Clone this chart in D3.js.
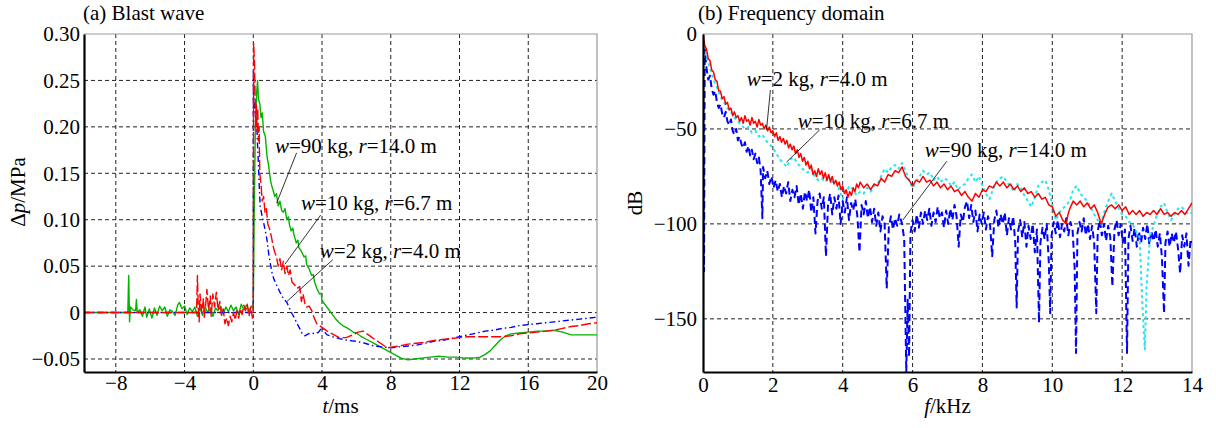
<!DOCTYPE html>
<html>
<head>
<meta charset="utf-8">
<script src="https://cdn.jsdelivr.net/npm/d3@7"></script>
<style>
body { margin:0; background:#fff; }
</style>
</head>
<body>
<svg id="chart" width="1216" height="428"></svg>
<script>
var FONT = 'Liberation Serif';
// (a) blast wave, [t ms, dp MPa]
var wave90 = [[-9.85,0],[-7.3,0],[-7.25,0.04],[-7.2,-0.01],[-7.15,0.006],[-7.0,0.003],[-6.85,0.002],[-6.8,0.014],[-6.75,0.0],[-6.6,0.003],[-6.45,-0.004],[-6.3,0.006],[-6.2,-0.005],[-6.05,0.004],[-5.9,-0.006],[-5.75,0.005],[-5.6,-0.003],[-5.45,0.007],[-5.3,0.002],[-5.15,0.006],[-5.0,-0.004],[-4.85,0.003],[-4.7,0.001],[-4.55,-0.003],[-4.4,0.008],[-4.3,0.011],[-4.15,0.004],[-4.0,0.007],[-3.85,-0.002],[-3.7,0.005],[-3.55,0.001],[-3.4,0.006],[-3.25,-0.004],[-3.1,0.005],[-2.95,-0.003],[-2.8,0.006],[-2.65,0.0],[-2.5,0.004],[-2.35,-0.004],[-2.2,0.005],[-2.05,0.002],[-1.9,0.007],[-1.75,-0.002],[-1.6,0.006],[-1.45,0.001],[-1.3,0.008],[-1.15,0.002],[-1.0,0.006],[-0.85,-0.002],[-0.7,0.009],[-0.55,0.003],[-0.4,0.008],[-0.25,0.002],[-0.1,0.007],[0.0,0.004],[0.05,0.1],[0.12,0.2],[0.2,0.238],[0.25,0.25],[0.3,0.23],[0.38,0.225],[0.45,0.21],[0.52,0.215],[0.6,0.195],[0.7,0.19],[0.8,0.168],[0.88,0.16],[0.95,0.15],[1.0,0.143],[1.05,0.138],[1.15,0.132],[1.25,0.125],[1.35,0.128],[1.45,0.115],[1.55,0.12],[1.65,0.11],[1.75,0.108],[1.85,0.112],[1.95,0.1],[2.05,0.103],[2.1,0.095],[2.2,0.088],[2.3,0.091],[2.35,0.085],[2.5,0.075],[2.6,0.078],[2.65,0.07],[2.8,0.066],[2.95,0.06],[3.05,0.061],[3.1,0.052],[3.25,0.047],[3.4,0.04],[3.5,0.041],[3.55,0.034],[3.7,0.026],[3.85,0.02],[3.95,0.021],[4.0,0.013],[4.2,0.008],[4.4,0.003],[4.6,-0.002],[4.8,-0.007],[5.0,-0.011],[5.2,-0.014],[5.4,-0.016],[5.6,-0.018],[5.8,-0.021],[6.0,-0.022],[6.3,-0.026],[6.6,-0.029],[7.0,-0.033],[7.4,-0.037],[7.8,-0.041],[8.2,-0.045],[8.6,-0.049],[9.0,-0.051],[9.4,-0.05],[9.8,-0.049],[10.3,-0.048],[10.8,-0.047],[11.3,-0.048],[11.8,-0.048],[12.3,-0.049],[12.8,-0.049],[13.2,-0.048],[13.5,-0.045],[13.8,-0.041],[14.1,-0.035],[14.4,-0.029],[14.7,-0.025],[15.0,-0.023],[15.5,-0.022],[16.0,-0.021],[16.5,-0.020],[17.0,-0.020],[17.5,-0.019],[18.0,-0.021],[18.5,-0.024],[19.0,-0.024],[19.5,-0.024],[20.0,-0.024]];
var wave10 = [[-9.85,0],[-3.3,0],[-3.25,0.04],[-3.2,0.005],[-3.15,-0.01],[-3.1,0.02],[-3.0,0.0],[-2.9,0.015],[-2.85,-0.005],[-2.75,0.012],[-2.7,0.025],[-2.6,0.002],[-2.5,0.018],[-2.45,-0.004],[-2.35,0.02],[-2.25,0.006],[-2.15,0.022],[-2.05,0.003],[-1.95,0.012],[-1.85,-0.003],[-1.75,0.004],[-1.65,-0.012],[-1.55,-0.006],[-1.45,-0.014],[-1.35,-0.004],[-1.25,-0.01],[-1.15,0.0],[-1.05,-0.008],[-0.95,0.002],[-0.85,-0.006],[-0.75,0.004],[-0.65,-0.002],[-0.55,0.008],[-0.45,0.002],[-0.35,0.009],[-0.25,-0.004],[-0.15,0.006],[-0.05,-0.006],[0.0,0.002],[0.02,0.29],[0.07,0.27],[0.1,0.24],[0.14,0.2],[0.18,0.225],[0.22,0.195],[0.26,0.22],[0.3,0.185],[0.34,0.2],[0.38,0.15],[0.45,0.138],[0.52,0.12],[0.6,0.125],[0.68,0.108],[0.76,0.112],[0.85,0.095],[0.95,0.09],[1.05,0.082],[1.15,0.072],[1.25,0.065],[1.35,0.06],[1.45,0.05],[1.55,0.058],[1.65,0.046],[1.75,0.055],[1.85,0.042],[1.95,0.05],[2.05,0.04],[2.15,0.046],[2.25,0.033],[2.4,0.03],[2.55,0.026],[2.7,0.028],[2.8,0.012],[2.9,0.02],[3.0,0.01],[3.1,0.006],[3.25,0.007],[3.4,0.002],[3.55,-0.006],[3.7,-0.012],[3.85,-0.014],[4.0,-0.016],[4.3,-0.02],[4.6,-0.023],[5.0,-0.027],[5.4,-0.027],[5.8,-0.024],[6.1,-0.021],[6.4,-0.02],[6.7,-0.024],[7.0,-0.028],[7.4,-0.033],[7.8,-0.038],[8.1,-0.037],[8.5,-0.036],[9.0,-0.034],[9.5,-0.033],[10.0,-0.032],[10.5,-0.030],[11.0,-0.029],[11.5,-0.028],[12.0,-0.027],[12.5,-0.026],[13.0,-0.026],[13.5,-0.026],[14.0,-0.026],[14.5,-0.026],[15.0,-0.025],[15.5,-0.023],[16.0,-0.022],[16.5,-0.021],[17.0,-0.020],[17.5,-0.019],[18.0,-0.017],[18.5,-0.015],[19.0,-0.014],[19.5,-0.012],[20.0,-0.011]];
var wave2 = [[-9.85,0],[0.0,0],[0.01,0.262],[0.04,0.23],[0.1,0.215],[0.2,0.205],[0.25,0.18],[0.3,0.16],[0.35,0.135],[0.4,0.115],[0.5,0.105],[0.6,0.097],[0.7,0.088],[0.8,0.078],[0.9,0.063],[1.0,0.052],[1.1,0.042],[1.2,0.036],[1.35,0.03],[1.5,0.024],[1.65,0.018],[1.8,0.014],[1.95,0.011],[2.1,0.005],[2.25,-0.001],[2.4,-0.006],[2.55,-0.012],[2.7,-0.017],[2.85,-0.023],[3.0,-0.025],[3.2,-0.023],[3.4,-0.022],[3.6,-0.023],[3.8,-0.021],[4.0,-0.016],[4.1,-0.02],[4.3,-0.024],[4.6,-0.026],[5.0,-0.028],[5.5,-0.030],[6.0,-0.031],[6.5,-0.033],[7.0,-0.036],[7.5,-0.037],[8.0,-0.038],[8.5,-0.037],[9.0,-0.036],[9.5,-0.035],[10.0,-0.033],[10.5,-0.031],[11.0,-0.030],[11.5,-0.028],[12.0,-0.026],[12.5,-0.024],[13.0,-0.022],[13.5,-0.020],[14.0,-0.019],[14.5,-0.017],[15.0,-0.016],[15.5,-0.014],[16.0,-0.013],[16.5,-0.012],[17.0,-0.011],[17.5,-0.010],[18.0,-0.009],[18.5,-0.008],[19.0,-0.007],[19.5,-0.006],[20.0,-0.005]];

// (b) frequency domain, [f kHz, dB]
var spec2 = [[0,0],[0.05,-6],[0.1,-8],[0.15,-13],[0.2,-14],[0.25,-19],[0.3,-20],[0.35,-24],[0.4,-25],[0.45,-30],[0.5,-30],[0.55,-34],[0.6,-33],[0.65,-37],[0.7,-36],[0.75,-40],[0.8,-39],[0.85,-43],[0.9,-41],[0.95,-44],[1.0,-43],[1.05,-46],[1.1,-44],[1.15,-47],[1.2,-43],[1.25,-46],[1.3,-45],[1.35,-48],[1.4,-44],[1.45,-47],[1.5,-46],[1.55,-49],[1.6,-45],[1.65,-48],[1.7,-47],[1.75,-50],[1.8,-48],[1.85,-51],[1.9,-49],[1.95,-52],[2.0,-51],[2.05,-54],[2.1,-52],[2.15,-56],[2.2,-54],[2.25,-57],[2.3,-55],[2.35,-58],[2.4,-56],[2.45,-60],[2.5,-58],[2.55,-61],[2.6,-59],[2.65,-63],[2.7,-61],[2.75,-65],[2.8,-63],[2.85,-67],[2.9,-65],[2.95,-69],[3.0,-67],[3.05,-71],[3.1,-69],[3.15,-74],[3.2,-72],[3.25,-75],[3.3,-71],[3.35,-74],[3.4,-72],[3.45,-76],[3.5,-73],[3.55,-77],[3.6,-74],[3.65,-78],[3.7,-75],[3.75,-79],[3.8,-77],[3.85,-80],[3.9,-78],[3.95,-82],[4.0,-80],[4.05,-84],[4.1,-82],[4.15,-86],[4.2,-83],[4.25,-85],[4.3,-81],[4.35,-83],[4.4,-79],[4.45,-81],[4.5,-78],[4.6,-81],[4.7,-79],[4.8,-82],[4.9,-79],[5.0,-80],[5.1,-76],[5.2,-78],[5.3,-74],[5.4,-75],[5.5,-72],[5.6,-73],[5.7,-70],[5.8,-75],[5.9,-77],[6.0,-80],[6.1,-77],[6.2,-78],[6.3,-75],[6.4,-78],[6.5,-77],[6.6,-80],[6.7,-78],[6.8,-81],[6.9,-79],[7.0,-82],[7.1,-80],[7.2,-83],[7.3,-82],[7.4,-85],[7.5,-83],[7.6,-86],[7.7,-88],[7.8,-84],[7.9,-86],[8.0,-82],[8.1,-83],[8.2,-80],[8.3,-81],[8.4,-78],[8.5,-80],[8.6,-78],[8.7,-81],[8.8,-79],[8.9,-82],[9.0,-80],[9.1,-83],[9.2,-81],[9.3,-84],[9.4,-83],[9.5,-86],[9.6,-84],[9.7,-87],[9.8,-86],[9.9,-90],[10.0,-91],[10.1,-96],[10.2,-94],[10.3,-98],[10.4,-100],[10.45,-95],[10.5,-92],[10.6,-88],[10.7,-90],[10.8,-88],[10.9,-91],[11.0,-89],[11.1,-92],[11.2,-90],[11.3,-94],[11.4,-100],[11.5,-95],[11.6,-91],[11.7,-90],[11.8,-92],[11.9,-90],[12.0,-93],[12.1,-91],[12.2,-95],[12.3,-93],[12.4,-95],[12.5,-93],[12.6,-96],[12.7,-94],[12.8,-95],[12.9,-93],[13.0,-95],[13.1,-92],[13.2,-95],[13.3,-94],[13.4,-96],[13.5,-94],[13.6,-95],[13.7,-93],[13.8,-95],[13.9,-92],[14.0,-89]];
var spec10 = [[0.0,0],[0.05,-8],[0.1,-12],[0.15,-15],[0.2,-18],[0.3,-24],[0.4,-28],[0.5,-33],[0.6,-36],[0.7,-39],[0.8,-41],[0.9,-44],[1.0,-46],[1.1,-48],[1.2,-50],[1.3,-49],[1.4,-52],[1.5,-51],[1.6,-54],[1.7,-53],[1.8,-56],[1.9,-58],[2.0,-60],[2.1,-63],[2.2,-66],[2.3,-68],[2.4,-70],[2.5,-66],[2.6,-65],[2.7,-68],[2.8,-70],[2.9,-72],[3.0,-73],[3.1,-71],[3.2,-75],[3.3,-77],[3.4,-76],[3.5,-78],[3.6,-75],[3.7,-78],[3.8,-77],[3.9,-82],[4.0,-87],[4.1,-83],[4.2,-80],[4.3,-82],[4.4,-85],[4.5,-83],[4.6,-84],[4.7,-81],[4.8,-83],[4.9,-80],[5.0,-79],[5.1,-75],[5.2,-71],[5.3,-73],[5.4,-70],[5.5,-69],[5.6,-71],[5.7,-68],[5.8,-72],[5.9,-77],[6.0,-81],[6.1,-78],[6.2,-75],[6.3,-72],[6.4,-74],[6.5,-73],[6.6,-77],[6.7,-75],[6.8,-78],[6.9,-76],[7.0,-77],[7.1,-80],[7.2,-78],[7.3,-82],[7.4,-80],[7.5,-79],[7.6,-76],[7.7,-74],[7.8,-78],[7.9,-75],[8.0,-80],[8.1,-84],[8.2,-87],[8.3,-82],[8.4,-78],[8.5,-76],[8.6,-75],[8.7,-78],[8.8,-80],[8.9,-83],[9.0,-79],[9.1,-81],[9.2,-85],[9.3,-88],[9.4,-91],[9.5,-86],[9.6,-80],[9.7,-78],[9.8,-77],[9.9,-82],[10.0,-90],[10.1,-98],[10.2,-94],[10.3,-92],[10.4,-90],[10.5,-88],[10.6,-82],[10.7,-80],[10.8,-84],[10.9,-86],[11.0,-88],[11.1,-91],[11.2,-95],[11.3,-98],[11.4,-100],[11.5,-93],[11.6,-88],[11.7,-84],[11.8,-88],[11.9,-92],[12.0,-95],[12.1,-96],[12.2,-99],[12.3,-100],[12.4,-104],[12.5,-107],[12.55,-130],[12.6,-150],[12.65,-166],[12.7,-133],[12.8,-106],[12.9,-101],[13.0,-95],[13.1,-91],[13.2,-89],[13.3,-94],[13.4,-98],[13.5,-95],[13.6,-92],[13.7,-91],[13.8,-93],[13.9,-95],[14.0,-94]];
var spec90 = [[0.0,-2],[0.03,-125],[0.05,-8],[0.1,-18],[0.15,-24],[0.2,-22],[0.25,-29],[0.3,-32],[0.35,-30],[0.4,-36],[0.45,-39],[0.5,-37],[0.55,-42],[0.6,-44],[0.65,-41],[0.7,-46],[0.75,-48],[0.8,-45],[0.85,-51],[0.9,-53],[0.95,-50],[1.0,-56],[1.05,-54],[1.1,-58],[1.15,-60],[1.2,-57],[1.25,-62],[1.3,-59],[1.35,-64],[1.4,-61],[1.45,-66],[1.5,-63],[1.55,-68],[1.6,-65],[1.65,-72],[1.7,-97],[1.72,-70],[1.78,-76],[1.84,-72],[1.9,-79],[1.96,-75],[2.02,-81],[2.08,-77],[2.14,-83],[2.2,-79],[2.26,-86],[2.32,-80],[2.38,-84],[2.44,-78],[2.5,-88],[2.56,-82],[2.62,-86],[2.68,-80],[2.74,-90],[2.8,-84],[2.86,-92],[2.92,-83],[2.98,-88],[3.04,-82],[3.1,-94],[3.16,-86],[3.22,-105],[3.28,-88],[3.34,-84],[3.4,-92],[3.46,-86],[3.52,-117],[3.58,-90],[3.64,-84],[3.7,-95],[3.76,-86],[3.82,-92],[3.88,-85],[3.94,-100],[4.0,-88],[4.06,-94],[4.12,-86],[4.18,-98],[4.24,-89],[4.3,-93],[4.36,-87],[4.42,-96],[4.48,-115],[4.54,-90],[4.6,-95],[4.66,-88],[4.72,-97],[4.78,-91],[4.84,-99],[4.9,-92],[4.96,-101],[5.02,-94],[5.08,-104],[5.14,-96],[5.2,-100],[5.26,-134],[5.32,-102],[5.38,-96],[5.44,-103],[5.5,-97],[5.56,-101],[5.62,-95],[5.7,-100],[5.76,-108],[5.82,-178],[5.86,-140],[5.9,-170],[5.94,-105],[6.0,-98],[6.06,-104],[6.12,-95],[6.18,-102],[6.24,-94],[6.3,-100],[6.36,-93],[6.42,-98],[6.48,-92],[6.54,-101],[6.6,-94],[6.66,-99],[6.72,-91],[6.78,-97],[6.84,-94],[6.9,-102],[6.96,-93],[7.02,-100],[7.08,-92],[7.14,-98],[7.2,-90],[7.26,-96],[7.32,-112],[7.38,-95],[7.44,-99],[7.5,-91],[7.56,-88],[7.62,-97],[7.68,-90],[7.74,-99],[7.8,-93],[7.86,-104],[7.92,-95],[7.98,-100],[8.04,-94],[8.1,-103],[8.16,-96],[8.22,-101],[8.28,-117],[8.34,-98],[8.4,-93],[8.46,-102],[8.52,-95],[8.58,-100],[8.64,-94],[8.7,-106],[8.76,-97],[8.82,-103],[8.88,-96],[8.94,-110],[8.98,-144],[9.02,-104],[9.08,-98],[9.14,-107],[9.2,-99],[9.26,-112],[9.32,-101],[9.38,-108],[9.44,-100],[9.5,-115],[9.56,-103],[9.62,-152],[9.66,-110],[9.72,-102],[9.78,-108],[9.84,-100],[9.9,-120],[9.94,-147],[9.98,-106],[10.04,-99],[10.1,-105],[10.16,-98],[10.22,-107],[10.28,-100],[10.34,-104],[10.4,-97],[10.46,-106],[10.52,-99],[10.58,-103],[10.64,-123],[10.68,-168],[10.72,-105],[10.78,-99],[10.84,-104],[10.9,-97],[10.96,-106],[11.02,-100],[11.08,-108],[11.14,-101],[11.2,-110],[11.26,-147],[11.3,-104],[11.36,-98],[11.42,-106],[11.48,-100],[11.54,-109],[11.6,-101],[11.66,-107],[11.72,-133],[11.78,-103],[11.84,-98],[11.9,-106],[11.96,-100],[12.02,-110],[12.08,-103],[12.14,-168],[12.18,-108],[12.24,-101],[12.3,-109],[12.36,-102],[12.42,-112],[12.48,-104],[12.54,-110],[12.6,-102],[12.66,-108],[12.72,-100],[12.78,-111],[12.84,-104],[12.9,-109],[12.96,-103],[13.02,-112],[13.08,-105],[13.14,-118],[13.2,-147],[13.24,-110],[13.3,-104],[13.36,-112],[13.42,-105],[13.48,-110],[13.54,-104],[13.6,-113],[13.66,-126],[13.72,-106],[13.78,-112],[13.84,-105],[13.9,-122],[13.96,-108],[14.0,-110]];

var tTicks = [-8,-4,0,4,8,12,16,20];
var pTicks = [-0.05,0,0.05,0.10,0.15,0.20,0.25,0.30];
var fTicks = [0,2,4,6,8,10,12,14];
var dbTicks = [-150,-100,-50,0];

// annotations: label, text anchor [x,y], leader from [x,y] to [x,y] in data units
var waveNotes = [
	{ w:'90', r:'14.0', at:[1.26,0.172], from:[2.52,0.172], to:[1.36,0.118] },
	{ w:'10', r:'6.7',  at:[2.77,0.111], from:[3.92,0.105], to:[1.84,0.052] },
	{ w:'2',  r:'4.0',  at:[3.87,0.059], from:[4.63,0.057], to:[1.96,0.012] }
];
var specNotes = [
	{ w:'2',  r:'4.0',  at:[1.25,-27.5], from:[1.93,-29.5], to:[1.82,-50.2] },
	{ w:'10', r:'6.7',  at:[2.71,-49.6], from:[3.34,-50.5], to:[2.39,-67.5] },
	{ w:'90', r:'14.0', at:[6.35,-64.9], from:[6.98,-67], to:[5.72,-98] }
];

var svg = d3.select('#chart');
svg.append('rect').attr('width',1216).attr('height',428).attr('fill','#fff');

function txt(sel) {
	return sel.attr('font-family', FONT).attr('font-size', 21).attr('fill', '#000');
}

function panel(o) {
	var x = d3.scaleLinear().domain(o.xd).range([o.x0, o.x1]);
	var y = d3.scaleLinear().domain(o.yd).range([o.y1, o.y0]);
	var g = svg.append('g');
	g.append('clipPath').attr('id', o.id).append('rect')
		.attr('x', o.x0).attr('y', o.y0).attr('width', o.x1-o.x0).attr('height', o.y1-o.y0);
	// grid
	g.selectAll('line.gx').data(o.xt.filter(function(d){return x(d)>o.x0+2 && x(d)<o.x1-2;})).enter().append('line')
		.attr('x1', x).attr('x2', x).attr('y1', o.y0).attr('y2', o.y1)
		.attr('stroke','#222').attr('stroke-width',1).attr('stroke-dasharray','4,3');
	g.selectAll('line.gy').data(o.yt.filter(function(d){return y(d)<o.y1-2 && y(d)>o.y0+2;})).enter().append('line')
		.attr('y1', y).attr('y2', y).attr('x1', o.x0).attr('x2', o.x1)
		.attr('stroke','#222').attr('stroke-width',1).attr('stroke-dasharray','4,3');
	// top/right frame
	g.append('path').attr('d','M'+o.x0+','+o.y0+'H'+o.x1+'V'+o.y1)
		.attr('fill','none').attr('stroke','#999').attr('stroke-width',1.2);
	// series
	var line = d3.line().x(function(d){return x(d[0]);}).y(function(d){return y(d[1]);});
	var lg = g.append('g').attr('clip-path','url(#'+o.id+')');
	o.series.forEach(function(s) {
		lg.append('path').datum(s.data).attr('d', line)
			.attr('fill','none').attr('stroke', s.color).attr('stroke-width', s.width)
			.attr('stroke-dasharray', s.dash).attr('stroke-linejoin','round');
	});
	// axes
	var ax = g.append('g').attr('transform','translate(0,'+o.y1+')')
		.call(d3.axisBottom(x).tickValues(o.xt).tickSize(0).tickPadding(o.xpad).tickFormat(o.xf));
	var ay = g.append('g').attr('transform','translate('+o.x0+',0)')
		.call(d3.axisLeft(y).tickValues(o.yt).tickSize(0).tickPadding(o.ypad).tickFormat(o.yf));
	[ax, ay].forEach(function(a) {
		a.attr('font-family', FONT).attr('font-size', 21);
		a.select('.domain').attr('stroke','#000').attr('stroke-width',2.2);
		a.selectAll('.tick text').attr('fill','#000');
	});
	// notes
	o.notes.forEach(function(n) {
		g.append('line').attr('x1', x(n.from[0])).attr('y1', y(n.from[1]))
			.attr('x2', x(n.to[0])).attr('y2', y(n.to[1])).attr('stroke','#000').attr('stroke-width',0.8);
		var t = txt(g.append('text')).attr('x', x(n.at[0])).attr('y', y(n.at[1]));
		t.append('tspan').attr('font-style','italic').text('w');
		t.append('tspan').text('=' + n.w + ' kg, ');
		t.append('tspan').attr('font-style','italic').text('r');
		t.append('tspan').text('=' + n.r + ' m');
	});
	// titles
	txt(g.append('text')).attr('x', o.tx).attr('y', 20).text(o.title);
	var xl = txt(g.append('text')).attr('x', (o.x0+o.x1)/2).attr('y', 413).attr('text-anchor','middle');
	xl.append('tspan').attr('font-style','italic').text(o.xlab[0]);
	xl.append('tspan').text(o.xlab[1]);
	var yl = txt(g.append('text')).attr('transform','translate('+o.ylx+','+o.yly+') rotate(-90)')
		.attr('text-anchor','middle');
	o.ylab.forEach(function(p) {
		yl.append('tspan').attr('font-style', p[1] ? 'italic' : 'normal').text(p[0]);
	});
	return g;
}

panel({
	id:'clipA', x0:84, x1:597, y0:34, y1:372,
	xd:[-9.85,20], yd:[-0.064,0.30],
	xt:tTicks, yt:pTicks, xpad:3, ypad:4,
	xf:function(d){ return d3.format('')(d); },
	yf:function(d){ return d===0 ? '0' : d3.format('.2f')(d); },
	series:[
		{ data:wave90, color:'#00b400', width:1.4, dash:null },
		{ data:wave2,  color:'#0000ff', width:1.4, dash:'6,3,1.5,3' },
		{ data:wave10, color:'#ff0000', width:1.4, dash:'10,3' }
	],
	notes:waveNotes,
	title:'(a) Blast wave', tx:83,
	xlab:['t','/ms'], ylab:[['Δ',0],['p',1],['/MPa',0]], ylx:25, yly:192
});

panel({
	id:'clipB', x0:703, x1:1192, y0:34, y1:372,
	xd:[0,14], yd:[-178,0],
	xt:fTicks, yt:dbTicks, xpad:5, ypad:6,
	xf:function(d){ return d3.format('')(d); },
	yf:function(d){ return d3.format('')(d); },
	series:[
		{ data:spec90, color:'#0000ff', width:2, dash:'7,4' },
		{ data:spec10, color:'#20e8f0', width:2, dash:'3,3' },
		{ data:spec2,  color:'#ff0000', width:1.5, dash:null }
	],
	notes:specNotes,
	title:'(b) Frequency domain', tx:698,
	xlab:['f','/kHz'], ylab:[['dB',0]], ylx:642, yly:203
});
</script>
</body>
</html>
